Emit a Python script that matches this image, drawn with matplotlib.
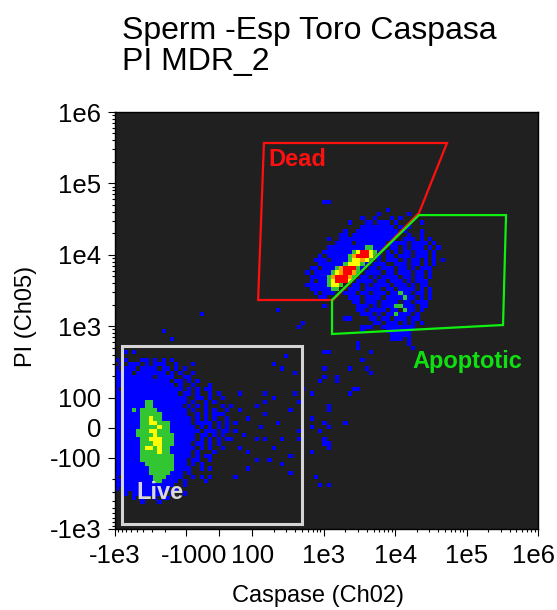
import numpy as np
import matplotlib
matplotlib.use('Agg')
import matplotlib.pyplot as plt
from matplotlib.colors import ListedColormap
from matplotlib.transforms import ScaledTranslation

plt.rcParams['font.family'] = ['Liberation Sans', 'DejaVu Sans']

# --- texts ---
title_lines = ['Sperm -Esp Toro Caspasa', 'PI MDR_2']
x_label = 'Caspase (Ch02)'
y_label = 'PI (Ch05)'

ticks = [-1e3, -100, 0, 100, 1e3, 1e4, 1e5, 1e6]
tick_labels = ['-1e3', '-100', '0', '100', '1e3', '1e4', '1e5', '1e6']

# --- gates (data units) ---
dead_x = [146, 53300, 21600, 1350, 121]
dead_y = [368000, 368000, 38500, 2330, 2330]
apop_x = [21600, 357000, 324000, 1310, 1310]
apop_y = [36000, 36000, 1040, 778, 2330]
live_x = [-798, 498]
live_y = [-863, 528]
gate_names = ['Dead', 'Apoptotic', 'Live']
gate_label_x = [167, 17300, -508]
gate_label_y = [213000, 316, -313]

# --- density grid (100 x 100 bins, row 0 = top), level per cell ---
# . none, b low, g, y, o, r high
n_cols, n_rows = 100, 100

live_origin = (54, 0)   # row, col of first char
live_rows = [
    ".............b",
    "",
    "",
    "..b.b",
    "",
    "b.b...bb.b.b.b",
    ".b.bbb.b.bbb..b...b",
    "b.bbb.bbbb.bb.b.b",
    "bbbb.bbbbbbb.b.b..b",
    "bbbbbbbbb.bbbb..bb",
    "bbbbbbbbbbbbb.bb.b.b",
    "bbbbbbbbbbbbbb.b..b...b",
    "b.bbbbbbbbbbbbbb.b.b.b",
    "bbbbbbbbbbbbbbb.bb.b..b.b",
    "bbbbbbbbbbbbbbbbb..bb.b..b",
    "bbbbbbbggbbbbbbbb.b..b.b",
    "bbbbbbbggbbbbbbb.b.b.b...b",
    "bbbbgbggggbbbbbbb.b..b.b..b",
    "bbbbbbgggggbbbbbb..b.b.b.b",
    "bbbbbbggyggbbbbbbb.b.b.b..b",
    "bbbbbbggyygggbbbbb.bb.b.b.b.b",
    "bbbbbbggggyggbbbbbb.b.b.b.b",
    "bbbbbgggyygggbbbbbbb.b.b.bb",
    "bbbbbggggyggggbbbbb.bb.b.b",
    "bbbbbbggyyygggbbbbb.b.b.b..b",
    "bbbbbbgggyygggbbbb.bb.b.b",
    "bbbbbbgyygyggbbbbbb.b.b",
    "bbbbbbggggyggbbbbb.b...b",
    "bbbbbbggggggggbbbb.b.b",
    "bbbbbbggggggggbbb.bb..b",
    "bbbbbbbgggggggbbb.b.b",
    "bbbbbbbbggggggbbbb..b",
    "bbbbbbbbgggggbbb.b",
    "b.bbbbbbbgggbbbb..b.b",
    "bbbbbbbbbggbbbb.b",
    "bbbbbbbbbbbbbb..b",
    "b.bbbbbbbbbbb.b",
    "..b.bbbbbbbb.b..b",
    "....b.b..b.bb",
    "......b...b",
]

dead_origin = (20, 44)
dead_rows = [
    "",
    ".....b",
    "",
    "....................b",
    "..................b......b",
    "..............b..b...b.b.",
    "...........b...bb.bbb.b.....b.",
    "..............bbbbbbbb.b.b....",
    "..........b..bbbbbbbbbb.b...b.",
    ".........bb.bbbbbbbbbbb..b..b.",
    "......b..bbbbbbbbbbbbb..bbb.b.b",
    "........bbbb.bbbbbbb.bbbb.bbbb.b",
    "......bbbbbbbbbggbbb.bb.b.bbb.b.b",
    ".....bbbbbbbgyrrygb.b.b.bb.b.b.b",
    "....b.bbbbbgorrrygb.bb.bbb.bbb.b",
    "...bbb.bbbbgyyoyg.b.bbb.b.bb.b.b",
    "....bbbbbbgyyygb.bbb..bbb.bb.b.b",
    "..bb.bbbgorrrgb.bb.bbb.bb.b.bbb",
    ".b.bbbbgyorrog.bbbb.bb.bbb.bb.b",
    "..bbbbgorrrog.bb.b.bbbb.bb.bb.b",
    "..b.bbgyrrry.bbbb.bb.bbb.b.bbb",
    ".bbbbbgyyg..bb.b.bbbb.bbb.b.bb",
    "..bbbbbgg..bbb.bbbb.bb.bbbb.b.b",
    "...b.bbb..bbb.bb.bbb.bbgbb.bb.b",
    "....bb.....bbb.bbbb.bbbbgbb.b.b",
    "............bb.bbb.bbbb.bb.bbb",
    ".....b.......bbb.b.bbbggbbb.bb",
    ".............bb.bbbb.bb.gbb.b",
    "..............bbb.b.bbgbbb.b",
    "..........b.....bb.bb.bbb.bb",
    ".................bb.bbb.b.b.b",
    "..............bbb..bbbbbbbb",
    "....................bbbbbb",
    ".....................bbbbb",
    ".....................bbb.b",
    ".............b...........b",
    "",
    ".....b..........b",
    "",
    "..............b",
]

# isolated low-density cells (col, row)
sparse_cells = [
    (25, 68), (27, 70), (29, 67), (35, 67), (37, 60), (40, 58), (42, 62), (39, 61),
    (42, 67), (43, 69), (33, 70), (35, 69), (37, 68), (44, 66), (29, 71), (31, 73),
    (34, 75), (35, 72), (38, 74), (41, 71), (43, 76), (43, 78), (39, 78), (37, 80),
    (35, 78), (33, 78), (30, 77), (28, 76), (26, 78), (25, 80), (23, 76), (22, 74),
    (24, 72), (26, 75), (29, 80), (31, 81), (33, 83), (36, 83), (39, 84), (41, 82),
    (41, 86), (31, 85), (28, 87), (22, 87), (21, 88), (22, 85), (20, 84), (19, 82),
    (22, 82), (20, 78), (21, 74), (22, 76), (22, 66), (21, 66),
    (46, 67), (48, 64), (49, 63), (50, 57), (49, 61), (50, 70), (49, 74), (46, 73),
    (46, 75), (48, 76), (50, 75), (49, 78), (50, 79), (50, 80), (46, 81), (47, 87),
    (48, 89), (50, 89), (54, 74), (55, 61), (56, 66), (57, 55), (57, 56), (52, 63),
    (50, 21), (20, 48), (11, 52), (13, 54), (38, 47), (44, 50), (43, 51), (58, 59),
    (55, 49), (52, 64), (59, 61), (60, 62), (55, 67), (57, 66), (50, 71), (48, 76),
    (49, 79), (58, 52), (70, 56), (77, 35), (75, 35), (72, 33),
]

level_codes = {'.': 0, 'b': 1, 'g': 2, 'y': 3, 'o': 4, 'r': 5}
level_colors = ['#0000ff', '#33c633', '#ffff00', '#ffa000', '#ff0000']

density = np.zeros((n_rows, n_cols), dtype=int)
for (row0, col0), rows in [(live_origin, live_rows), (dead_origin, dead_rows)]:
    for i, line in enumerate(rows):
        for j, ch in enumerate(line):
            r, c = row0 + i, col0 + j
            density[r, c] = max(density[r, c], level_codes[ch])
for c, r in sparse_cells:
    density[r, c] = max(density[r, c], 1)

# --- figure ---
fig = plt.figure(figsize=(5.57, 6.10), dpi=100)
ax = fig.add_axes([115 / 557, 81 / 610, 423 / 557, 417 / 610])
ax.set_facecolor('#202020')

ax.set_xscale('symlog', linthresh=100, linscale=0.414)
ax.set_yscale('symlog', linthresh=100, linscale=0.378)
ax.set_xlim(-1e3, 1e6)
ax.set_ylim(-1e3, 1e6)

# bin edges evenly spaced in display (transformed) space
tx = ax.xaxis.get_transform()
ty = ax.yaxis.get_transform()
x_lo, x_hi = tx.transform(np.array([-1e3, 1e6]))
y_lo, y_hi = ty.transform(np.array([-1e3, 1e6]))
edges_x = tx.inverted().transform(np.linspace(x_lo, x_hi, n_cols + 1))
edges_y = ty.inverted().transform(np.linspace(y_lo, y_hi, n_rows + 1))

cmap = ListedColormap(level_colors)
ax.pcolormesh(edges_x, edges_y, np.ma.masked_equal(density[::-1], 0),
              cmap=cmap, vmin=0.5, vmax=5.5, shading='flat',
              antialiased=False, linewidth=0, zorder=1)

# gates
ax.fill(dead_x, dead_y, facecolor='none', edgecolor='#ff1010', lw=1.6, zorder=3)
ax.fill(apop_x, apop_y, facecolor='none', edgecolor='#10f010', lw=1.6, zorder=4)
ax.fill([live_x[0], live_x[1], live_x[1], live_x[0]],
        [live_y[0], live_y[0], live_y[1], live_y[1]],
        facecolor='none', edgecolor='#d4d4d4', lw=2.2, zorder=3)

label_colors = ['#ff1010', '#10e010', '#d8d8d8']
for name, lx, ly, col in zip(gate_names, gate_label_x, gate_label_y, label_colors):
    ax.text(lx, ly, name, color=col, fontsize=17, fontweight='bold',
            ha='left', va='center', zorder=5)

# ticks
minor = []
for k in range(2, 6):
    minor += list(np.arange(2, 10) * 10 ** k)
minor += list(-np.arange(2, 10) * 100)
ax.set_xticks(ticks, tick_labels)
ax.set_yticks(ticks, tick_labels)
ax.set_xticks(minor, minor=True)
ax.set_yticks(minor, minor=True)
ax.tick_params(which='major', direction='out', length=5, width=0.8,
               labelsize=18.5, color='black')
ax.tick_params(which='minor', direction='out', length=2.5, width=0.8, color='black')
ax.tick_params(axis='x', which='major', pad=6)
ax.tick_params(axis='y', which='major', pad=5)
for s in ax.spines.values():
    s.set_color('black')
    s.set_linewidth(1)

# keep the last x label inside the canvas
last = ax.xaxis.get_major_ticks()[-1].label1
last.set_transform(last.get_transform() + ScaledTranslation(-5 / 100, 0, fig.dpi_scale_trans))

ax.set_xlabel(x_label, fontsize=17)
ax.set_ylabel(y_label, fontsize=17)
ax.xaxis.set_label_coords(0.48, -0.135)
ax.yaxis.set_label_coords(-0.185, 0.51)

fig.text(122 / 557, 1 - 16 / 610, '\n'.join(title_lines), ha='left', va='top',
         fontsize=23, linespacing=1.05)

fig.savefig('out.png', dpi=100)
